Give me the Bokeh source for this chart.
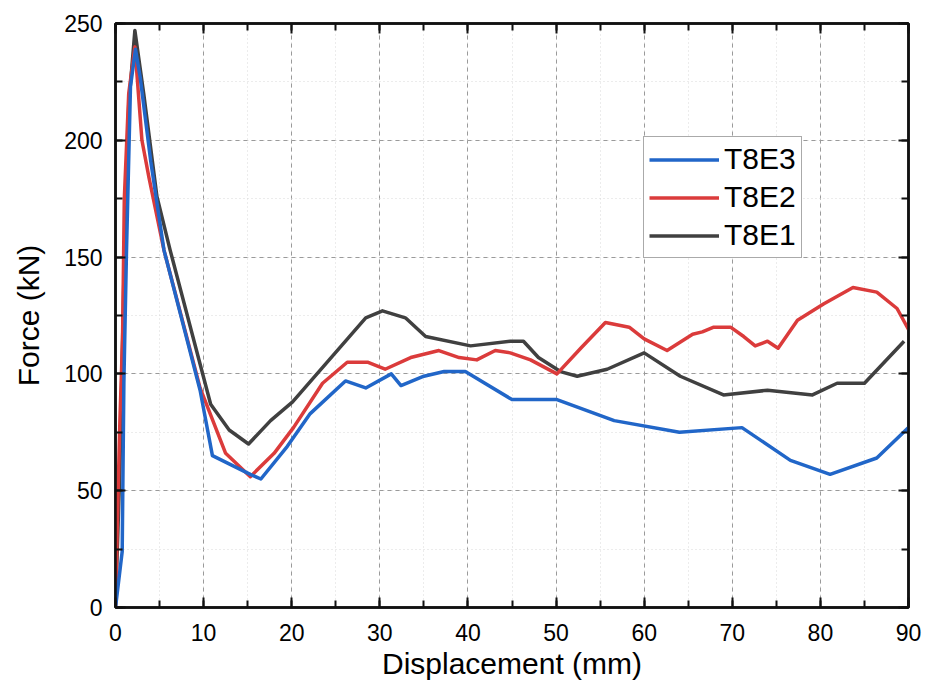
from bokeh.plotting import figure
from bokeh.models import (LinearAxis, SingleIntervalTicker, Legend, LegendItem, Range1d)
from bokeh.embed import file_html
from bokeh.resources import INLINE

# ---- data ----
x_t8e1 = [0, 0.5, 1.0, 1.5, 2.2, 3.2, 4.7, 6.2, 10.8, 12.9, 15.1, 17.6, 20.1, 28.4, 30.3,
          32.9, 35.2, 40.3, 44.8, 46.3, 48.0, 50.5, 52.4, 55.8, 60.0, 64.1, 69.0, 74.0,
          79.1, 81.9, 85.0, 89.5]
f_t8e1 = [0, 60, 150, 215, 247, 220, 176, 153, 87, 76, 70, 80, 88, 124, 127,
          124, 116, 112, 114, 114, 107, 101, 99, 102, 109, 99, 91, 93,
          91, 96, 96, 114]

x_t8e2 = [0, 0.2, 0.5, 0.8, 1.0, 1.5, 2.2, 3.0, 3.8, 5.5, 9.6, 12.5, 15.3, 18.0, 20.2,
          23.5, 26.3, 28.6, 30.6, 33.5, 36.7, 39.0, 41.0, 43.1, 44.8, 47.1, 50.1, 52.8,
          55.6, 58.3, 60.0, 62.6, 65.5, 66.6, 67.9, 69.8, 71.3, 72.6, 74.0, 75.2, 77.4,
          80.4, 83.7, 86.4, 88.7, 90.0]
f_t8e2 = [0, 35, 80, 115, 175, 220, 240, 200, 184, 153, 94, 66, 56, 66, 77,
          96, 105, 105, 102, 107, 110, 107, 106, 110, 109, 106, 100, 111,
          122, 120, 115, 110, 117, 118, 120, 120, 116, 112, 114, 111, 123,
          130, 137, 135, 128, 119]

x_t8e3 = [0, 0.76, 0.95, 1.25, 1.7, 2.27, 2.8, 4.0, 5.5, 9.6, 11.0, 15.3, 16.5, 19.5,
          22.1, 26.1, 28.4, 31.3, 32.4, 35.0, 37.3, 39.7, 45.0, 50.1, 56.6, 64.0, 71.1,
          76.6, 81.1, 86.4, 90.0]
f_t8e3 = [0, 24, 96, 153, 223, 239, 227, 191, 153, 93, 65, 57, 55, 69,
          83, 97, 94, 100, 95, 99, 101, 101, 89, 89, 80, 75, 77,
          63, 57, 64, 77]

series_names = ["T8E3", "T8E2", "T8E1"]
colors = {"T8E3": "#2166c8", "T8E2": "#db3b3b", "T8E1": "#404040"}

FONT = "Liberation Sans"

p = figure(width=934, height=691, output_backend="svg", toolbar_location=None,
           x_range=Range1d(0, 90), y_range=Range1d(0, 250),
           min_border_left=115, min_border_right=26, min_border_top=23, min_border_bottom=84,
           x_axis_label="Displacement (mm)", y_axis_label="Force (kN)")
p.background_fill_color = "white"
p.border_fill_color = "white"
p.outline_line_color = "#111111"
p.outline_line_width = 2.5

xt = SingleIntervalTicker(interval=10, num_minor_ticks=2)
yt = SingleIntervalTicker(interval=50, num_minor_ticks=2)

def style_axis(ax, labels=True):
    ax.axis_line_color = "#111111"
    ax.axis_line_width = 2.5
    ax.major_tick_in = 10
    ax.major_tick_out = 0
    ax.minor_tick_in = 7
    ax.minor_tick_out = 0
    ax.major_tick_line_width = 2
    ax.minor_tick_line_width = 2
    ax.major_tick_line_color = "#111111"
    ax.minor_tick_line_color = "#111111"
    ax.major_label_text_font = FONT
    ax.major_label_text_font_size = "23px"
    ax.major_label_text_color = "black"
    ax.major_label_standoff = 10
    ax.axis_label_text_font = FONT
    ax.axis_label_text_font_size = "30px"
    ax.axis_label_text_font_style = "normal"
    ax.axis_label_text_color = "black"
    if not labels:
        ax.major_label_text_alpha = 0
        ax.major_label_text_font_size = "1px"
        ax.major_label_standoff = 0

p.xaxis.ticker = xt
p.yaxis.ticker = yt
style_axis(p.xaxis[0])
style_axis(p.yaxis[0])
p.xaxis[0].major_label_standoff = 16
p.xaxis[0].axis_label_standoff = 3
p.yaxis[0].major_label_standoff = 13
p.yaxis[0].axis_label_standoff = 16

top_ax = LinearAxis(ticker=SingleIntervalTicker(interval=10, num_minor_ticks=2))
right_ax = LinearAxis(ticker=SingleIntervalTicker(interval=50, num_minor_ticks=2))
style_axis(top_ax, labels=False)
style_axis(right_ax, labels=False)
p.add_layout(top_ax, "above")
p.add_layout(right_ax, "right")

p.xgrid.ticker = xt
p.ygrid.ticker = yt
for g in (p.xgrid[0], p.ygrid[0]):
    g.grid_line_color = "#9a9a9a"
    g.grid_line_dash = "4 4"
    g.grid_line_width = 1
    g.minor_grid_line_color = "#d8d8d8"
    g.minor_grid_line_dash = "1 3"
    g.minor_grid_line_width = 1

renderers = {}
renderers["T8E1"] = p.line(x_t8e1, f_t8e1, line_color=colors["T8E1"], line_width=3.5, line_join="round")
renderers["T8E2"] = p.line(x_t8e2, f_t8e2, line_color=colors["T8E2"], line_width=3.5, line_join="round")
renderers["T8E3"] = p.line(x_t8e3, f_t8e3, line_color=colors["T8E3"], line_width=3.5, line_join="round")

legend = Legend(items=[LegendItem(label=n, renderers=[renderers[n]]) for n in series_names],
                location=(528, 349))
legend.label_text_font = FONT
legend.label_text_font_size = "30px"
legend.label_text_color = "black"
legend.glyph_width = 70
legend.glyph_height = 33
legend.label_height = 33
legend.label_standoff = 5
legend.spacing = 4
legend.padding = 5
legend.margin = 0
legend.border_line_color = "#555555"
legend.border_line_width = 1.5
legend.background_fill_color = "white"
legend.background_fill_alpha = 1
p.add_layout(legend, "center")

open("out.html", "w").write(file_html(p, INLINE))
